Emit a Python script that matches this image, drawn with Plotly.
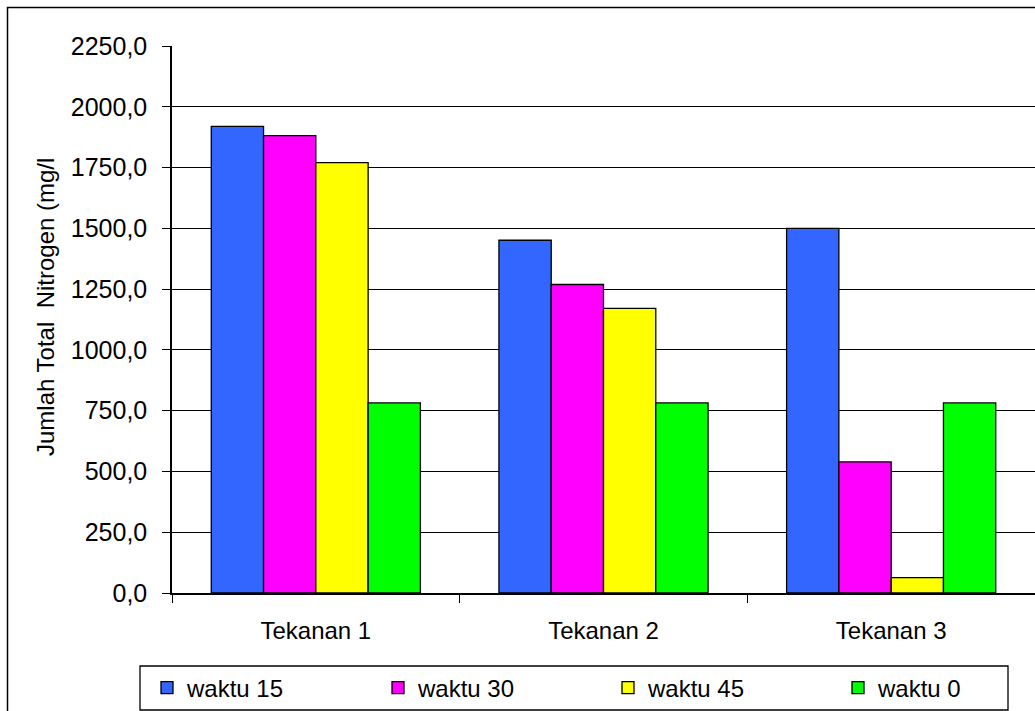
import plotly.graph_objects as go

categories = ["Tekanan 1", "Tekanan 2", "Tekanan 3"]
series_names = ["waktu 15", "waktu 30", "waktu 45", "waktu 0"]
waktu_15 = [1919, 1451, 1500]
waktu_30 = [1881, 1269, 539]
waktu_45 = [1770, 1171, 63]
waktu_0 = [782, 782, 782]
colors = ["#3366FF", "#FF00FF", "#FFFF00", "#00FF00"]
y_ticks = [0, 250, 500, 750, 1000, 1250, 1500, 1750, 2000, 2250]

FONT = "Liberation Sans, Arial, sans-serif"
W, H = 1035, 711
ML, MR, MT, MB = 172, 0, 46, 118
pw, ph = W - ML - MR, H - MT - MB

def px_x(px):
    return (px - ML) / pw

def px_y(py):
    return (H - MB - py) / ph

legend_ids = ["legend", "legend2", "legend3", "legend4"]
swatch_left = [162, 393, 623, 853]

fig = go.Figure()
for name, vals, col, lid in zip(series_names, [waktu_15, waktu_30, waktu_45, waktu_0], colors, legend_ids):
    fig.add_trace(go.Bar(
        x=categories, y=vals, name=name, legend=lid,
        marker=dict(color=col, line=dict(color="#000000", width=1.3)),
    ))

legend_layout = {}
for lid, sx in zip(legend_ids, swatch_left):
    legend_layout[lid] = dict(
        x=px_x(sx - 15), y=px_y(688), xanchor="left", yanchor="middle",
        bgcolor="rgba(0,0,0,0)", borderwidth=0,
        font=dict(family=FONT, size=24, color="#000000"),
        orientation="h",
    )

fig.update_layout(
    width=W, height=H,
    margin=dict(l=ML, r=MR, t=MT, b=MB),
    paper_bgcolor="white", plot_bgcolor="white",
    font=dict(family=FONT, size=24, color="#000000"),
    separators=",.",
    barmode="group", bargap=0.273, bargroupgap=0,
    showlegend=True,
    xaxis=dict(
        type="category",
        showline=True, linecolor="#000000", linewidth=1.5,
        ticks="outside", ticklen=8, tickcolor="#000000", tickwidth=1.3,
        tickson="boundaries",
        showgrid=False,
        ticklabelstandoff=15,
        tickfont=dict(family=FONT, size=24, color="#000000"),
    ),
    yaxis=dict(
        range=[0, 2250],
        tickvals=y_ticks, tickformat=".1f",
        showline=True, linecolor="#000000", linewidth=1.5,
        ticks="outside", ticklen=8, tickcolor="#000000", tickwidth=1.3,
        showgrid=True, gridcolor="#000000", gridwidth=1.2,
        zeroline=False,
        ticklabelstandoff=10,
        tickfont=dict(family=FONT, size=25, color="#000000"),
    ),
    annotations=[dict(
        text="Jumlah Total  Nitrogen (mg/l",
        xref="paper", yref="paper",
        x=px_x(45), y=px_y(307), xanchor="center", yanchor="middle",
        textangle=-90, showarrow=False,
        font=dict(family=FONT, size=24, color="#000000"),
    )],
    shapes=[
        dict(
            type="rect", xref="paper", yref="paper",
            x0=px_x(7.5), x1=px_x(1040), y0=px_y(720), y1=px_y(7.5),
            line=dict(color="#000000", width=1.5), fillcolor="rgba(0,0,0,0)",
            layer="above",
        ),
        dict(
            type="rect", xref="paper", yref="paper",
            x0=px_x(140), x1=px_x(1008), y0=px_y(710), y1=px_y(666),
            line=dict(color="#000000", width=1.3), fillcolor="rgba(0,0,0,0)",
            layer="above",
        ),
    ],
    **legend_layout,
)

fig.write_html(
    "out.html",
    config={"displayModeBar": False},
    post_script="document.body.style.margin='0';document.body.style.padding='0';",
)
